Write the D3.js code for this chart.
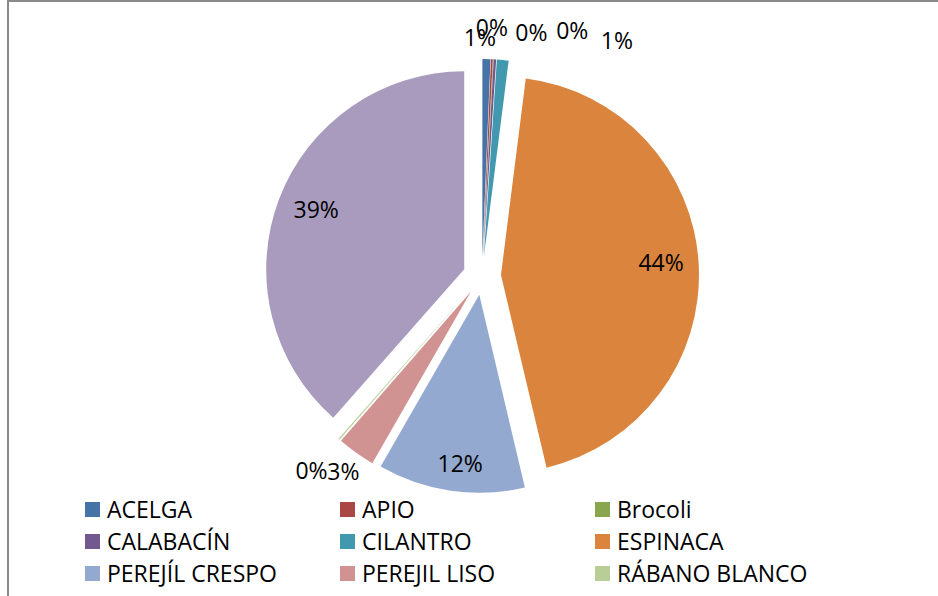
<!DOCTYPE html>
<html>
<head>
<meta charset="utf-8">
<script src="https://cdn.jsdelivr.net/npm/d3@7"></script>
<style>
  body { margin: 0; background: #fff; }
  text { font-family: "Open Sans", Lato, "Liberation Sans", sans-serif; fill: #000; }
</style>
</head>
<body>
<div id="chart"></div>
<script>
// Categories and shares (percent)
let categories = ['ACELGA', 'APIO', 'Brocoli', 'CALABACÍN', 'CILANTRO', 'ESPINACA',
    'PEREJÍL CRESPO', 'PEREJIL LISO', 'RÁBANO BLANCO', ''];
let values = [0.65, 0.15, 0.05, 0.2, 0.95, 44.3, 12.0, 3.1, 0.1, 38.5];
let colors = ['#4572A7', '#AA4643', '#89A54E', '#71588F', '#4198AF', '#DB843D',
    '#93A9CF', '#D19392', '#B9CD96', '#A99BBD'];

// label nudges for the crowded outside labels
let labelNudge = [[-7, 1], [-1, -9], [37, -4], [76, -6], [112, 3],
    [0, -3], [4, 10], [0, 1], [-13, 15], [2, -3]];

let width = 938,
    height = 596,
    cx = 482,
    cy = 276,
    radius = 198,
    explode = 19;

let svg = d3.select('#chart')
    .append('svg')
    .attr('width', width)
    .attr('height', height);

// chart frame (runs off right and bottom)
svg.append('rect')
    .attr('x', 8)
    .attr('y', 1)
    .attr('width', 1000)
    .attr('height', 700)
    .attr('fill', 'none')
    .attr('stroke', '#8a8a8a')
    .attr('stroke-width', 2);

let data = categories.map(function (c, i) {
    return { name: c, value: values[i], color: colors[i], i: i };
});

let pie = d3.pie()
    .sort(null)
    .value(function (d) { return d.value; });

let arc = d3.arc()
    .innerRadius(0)
    .outerRadius(radius);

let total = d3.sum(values);
let arcs = pie(data);

function mid(d) { return (d.startAngle + d.endAngle) / 2; }
function dir(d) { let a = mid(d); return [Math.sin(a), -Math.cos(a)]; }

let g = svg.append('g')
    .attr('transform', 'translate(' + cx + ',' + cy + ')');

let slices = g.selectAll('g.slice')
    .data(arcs)
    .enter()
    .append('g')
    .attr('class', 'slice')
    .attr('transform', function (d) {
        let v = dir(d);
        return 'translate(' + (v[0] * explode) + ',' + (v[1] * explode) + ')';
    });

slices.append('path')
    .attr('d', arc)
    .attr('fill', function (d) { return d.data.color; });

// percentage labels: big slices inside, small ones outside
slices.append('text')
    .attr('text-anchor', 'middle')
    .attr('dy', '0.35em')
    .style('font-size', '23px')
    .attr('x', function (d) {
        let v = dir(d);
        let r = d.data.value > 5 ? radius * 0.81 : radius + 22;
        return v[0] * r + labelNudge[d.data.i][0];
    })
    .attr('y', function (d) {
        let v = dir(d);
        let r = d.data.value > 5 ? radius * 0.81 : radius + 22;
        return v[1] * r + labelNudge[d.data.i][1];
    })
    .text(function (d) { return Math.round(d.data.value / total * 100) + '%'; });

// Legend: three columns
let legend = svg.append('g')
    .attr('transform', 'translate(85,502)');

let item = legend.selectAll('g')
    .data(data.filter(function (d) { return d.name !== ''; }))
    .enter()
    .append('g')
    .attr('transform', function (d, i) {
        return 'translate(' + ((i % 3) * 255) + ',' + (Math.floor(i / 3) * 32) + ')';
    });

item.append('rect')
    .attr('width', 15)
    .attr('height', 15)
    .attr('fill', function (d) { return d.color; });

item.append('text')
    .attr('x', 22)
    .attr('y', 8)
    .attr('dy', '0.35em')
    .style('font-size', '23px')
    .text(function (d) { return d.name; });
</script>
</body>
</html>
